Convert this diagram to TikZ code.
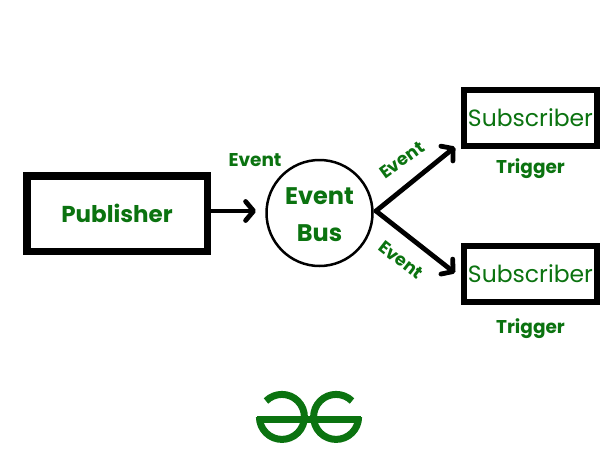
\documentclass[tikz,border=0pt]{standalone}
\usepackage{fontspec}
\setmainfont{Poppins}
\usetikzlibrary{arrows.meta}
\definecolor{gfg}{HTML}{0B7310}
\tikzset{
  x=1pt,y=-1pt,
  pubbox/.style={draw=black,line width=7.5pt,minimum width=180.5pt,minimum height=75.5pt,inner sep=0pt,text=gfg,font=\fontsize{23}{27}\selectfont\bfseries},
  subbox/.style={draw=black,line width=6pt,minimum width=133pt,minimum height=56pt,inner sep=0pt,text=gfg,font=\fontsize{23.5}{27}\selectfont},
  busnode/.style={draw=black,line width=2.5pt,circle,minimum size=106pt,inner sep=0pt,text=gfg,align=center,font=\fontsize{24}{37}\selectfont\bfseries},
  lab/.style={text=gfg,inner sep=0pt,font=\fontsize{18.5}{22}\selectfont\bfseries},
  rlab/.style={lab,font=\fontsize{17.5}{21}\selectfont\bfseries},
  conn/.style={draw=black,line width=4.8pt,line cap=round,-{Straight Barb[length=8pt,width=19pt,line width=4.8pt,round]}},
  logo/.style={draw=gfg,line width=7pt}
}
\begin{document}
\begin{tikzpicture}
\useasboundingbox (0,0) rectangle (600,450);
\fill[white] (0,0) rectangle (600,450);
\node[pubbox] (pub) at (117,213.5) {Publisher};
\node[busnode] (bus) at (319.5,213) {};
\node[text=gfg,align=center,inner sep=0pt,font=\fontsize{24}{37}\selectfont\bfseries] (bust) at (319.5,215) {Event\\Bus};
\node[subbox] (suba) at (530.5,118) {Subscriber};
\node[subbox] (subb) at (530.5,274) {Subscriber};
\node[lab] (le) at (255,160) {Event};
\node[rlab,rotate=36] (lu) at (402,160) {Event};
\node[rlab,rotate=-38] (ld) at (401,260) {Event};
\node[lab] (ta) at (530.5,169) {Trigger};
\node[lab] (tb) at (530.5,329) {Trigger};
\coordinate (pe) at (212,211);
\coordinate (be) at (256,211);
\coordinate (fork) at (376,211);
\coordinate (ea) at (455,147);
\coordinate (eb) at (455,273);
\draw[conn] (pe) -- (be);
\draw[conn] (fork) -- (ea);
\draw[conn] (fork) -- (eb);
% logo
\draw[logo] (257,419) -- (361,419);
\draw[logo] (266,401) arc[start angle=-135,end angle=180,radius=22.5];
\draw[logo] (352,401) arc[start angle=-45,end angle=-360,radius=22.5];
\end{tikzpicture}
\end{document}
